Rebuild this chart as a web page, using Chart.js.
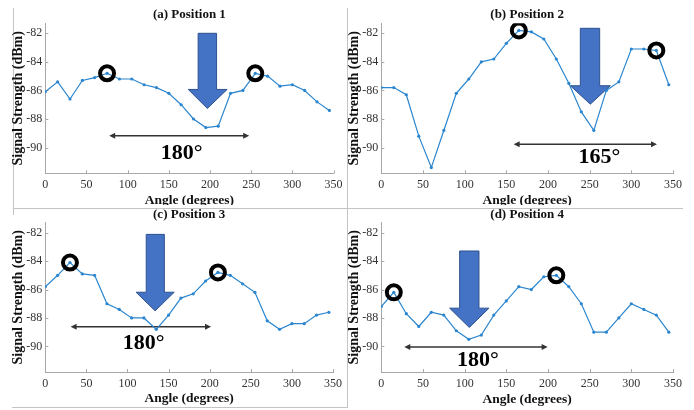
<!DOCTYPE html>
<html>
<head>
<meta charset="utf-8">
<script src="https://cdn.jsdelivr.net/npm/chart.js@4.4.1/dist/chart.umd.min.js"></script>
<style>
	html, body { margin: 0; padding: 0; background: #fff; }
	body { position: relative; width: 694px; height: 410px; overflow: hidden; }
	.panel { position: absolute; width: 347px; height: 205px; }
	.rule { position: absolute; background: #c4c4c4; }
</style>
</head>
<body>
<div class="rule" style="left:13px;top:8px;width:1px;height:207px"></div>
<div class="rule" style="left:347px;top:8px;width:1px;height:400px"></div>
<div class="rule" style="left:13px;top:208px;width:670px;height:1px"></div>
<div class="rule" style="left:12px;top:407px;width:336px;height:1px"></div>

<div class="panel" style="left:0;top:0"><canvas id="chartA"></canvas></div>
<div class="panel" style="left:347px;top:0"><canvas id="chartB"></canvas></div>
<div class="panel" style="left:0;top:205px"><canvas id="chartC"></canvas></div>
<div class="panel" style="left:347px;top:205px"><canvas id="chartD"></canvas></div>

<script>
// Angles measured (degrees)
const angles = [ 0, 15, 30, 45, 60, 75, 90, 105, 120, 135, 150, 165,
	180, 195, 210, 225, 240, 255, 270, 285, 300, 315, 330, 345 ];

// Signal strength (dBm) per position
const position1 = [ -86.1, -85.4, -86.6, -85.3, -85.1, -84.8, -85.2, -85.2, -85.6, -85.8, -86.2, -87.0,
	-88.0, -88.6, -88.5, -86.2, -86.0, -84.8, -85.0, -85.7, -85.6, -86.0, -86.8, -87.4 ];
const position2 = [ -85.8, -85.8, -86.3, -89.2, -91.4, -88.8, -86.2, -85.2, -84.0, -83.8, -82.7, -81.8,
	-81.9, -82.4, -83.8, -85.5, -87.5, -88.8, -86.0, -85.4, -83.1, -83.1, -83.2, -85.6 ];
const position3 = [ -85.8, -85.0, -84.1, -84.9, -85.0, -87.0, -87.4, -88.0, -88.0, -88.8, -87.8, -86.6,
	-86.3, -85.4, -84.8, -85.0, -85.6, -86.2, -88.2, -88.8, -88.4, -88.4, -87.8, -87.6 ];
const position4 = [ -87.2, -86.2, -87.7, -88.6, -87.6, -87.8, -88.9, -89.5, -89.2, -87.8, -86.8, -85.8,
	-86.0, -85.1, -85.0, -85.8, -87.0, -89.0, -89.0, -88.0, -87.0, -87.4, -87.8, -89.0 ];

// Circled peak angles
const peaks1 = [ 75, 255 ];
const peaks2 = [ 165, 330 ];
const peaks3 = [ 30, 210 ];
const peaks4 = [ 15, 210 ];

const panelTitles = [ '(a) Position 1', '(b) Position 2', '(c) Position 3', '(d) Position 4' ];
const spanLabels = [ '180°', '165°', '180°', '180°' ];

// Tick labels
const xTicks = [ 0, 50, 100, 150, 200, 250, 300, 350 ];
const yTicks = [ -90, -88, -86, -84, -82 ];

// Annotation anchors in data units
// down arrow: shaftLeft, shaftRight, headLeft, headRight, tipX, top, headBase, tip
const downArrows = [
	[ 185.6, 208.0, 173.6, 220.8, 196.8, -82.0, -85.93, -87.26 ],
	[ 238.8, 262.0, 226.8, 274.8, 250.8, -81.65, -85.67, -86.96 ],
	[ 122.8, 144.8, 110.4, 156.8, 133.6, -82.12, -86.19, -87.5 ],
	[ 94.0, 117.2, 82.0, 129.2, 105.6, -83.29, -87.31, -88.67 ]
];
// double arrow: from, to, level ; label: x, y
const spanArrows = [
	[ 77.6, 247.6, -89.18, 165.6, -90.37 ],
	[ 158.8, 330.8, -89.77, 261.6, -90.7 ],
	[ 30.8, 201.6, -88.62, 119.6, -89.79 ],
	[ 27.6, 199.6, -90.05, 116.0, -90.96 ]
];

const serif = "'Liberation Serif', 'Times New Roman', serif";
const lineColor = '#2b86cf';
const axisColor = '#a8a8a8';

const annotate = {
	id: 'annotate',
	beforeDatasetsDraw( chart, args, opts ) {
		const { ctx, scales: { x, y }, chartArea } = chart;
		ctx.save();

		// inward tick marks
		ctx.strokeStyle = axisColor;
		ctx.lineWidth = 1;
		ctx.beginPath();
		xTicks.forEach( function ( v ) {
			const px = Math.round( x.getPixelForValue( v ) ) + 0.5;
			ctx.moveTo( px, chartArea.bottom );
			ctx.lineTo( px, chartArea.bottom - 3 );
		} );
		yTicks.forEach( function ( v ) {
			const py = Math.round( y.getPixelForValue( v ) ) + 0.5;
			ctx.moveTo( chartArea.left, py );
			ctx.lineTo( chartArea.left + 3, py );
		} );
		ctx.stroke();

		// big down arrow
		const a = opts.arrow;
		const X = ( v ) => x.getPixelForValue( v ), Y = ( v ) => y.getPixelForValue( v );
		ctx.beginPath();
		ctx.moveTo( X( a[ 0 ] ), Y( a[ 5 ] ) );
		ctx.lineTo( X( a[ 1 ] ), Y( a[ 5 ] ) );
		ctx.lineTo( X( a[ 1 ] ), Y( a[ 6 ] ) );
		ctx.lineTo( X( a[ 3 ] ), Y( a[ 6 ] ) );
		ctx.lineTo( X( a[ 4 ] ), Y( a[ 7 ] ) );
		ctx.lineTo( X( a[ 2 ] ), Y( a[ 6 ] ) );
		ctx.lineTo( X( a[ 0 ] ), Y( a[ 6 ] ) );
		ctx.closePath();
		ctx.fillStyle = '#4472c4';
		ctx.fill();
		ctx.strokeStyle = '#2f528f';
		ctx.lineWidth = 1;
		ctx.stroke();

		// double-headed span arrow
		const s = opts.span;
		const x1 = X( s[ 0 ] ), x2 = X( s[ 1 ] ), sy = Y( s[ 2 ] );
		ctx.strokeStyle = '#333';
		ctx.fillStyle = '#333';
		ctx.lineWidth = 1.5;
		ctx.beginPath();
		ctx.moveTo( x1 + 4, sy );
		ctx.lineTo( x2 - 4, sy );
		ctx.stroke();
		ctx.beginPath();
		ctx.moveTo( x1, sy );
		ctx.lineTo( x1 + 6, sy - 3 );
		ctx.lineTo( x1 + 6, sy + 3 );
		ctx.closePath();
		ctx.moveTo( x2, sy );
		ctx.lineTo( x2 - 6, sy - 3 );
		ctx.lineTo( x2 - 6, sy + 3 );
		ctx.closePath();
		ctx.fill();

		ctx.fillStyle = '#000';
		ctx.font = 'bold 22px ' + serif;
		ctx.textAlign = 'center';
		ctx.textBaseline = 'middle';
		ctx.fillText( opts.label, X( s[ 3 ] ), Y( s[ 4 ] ) );
		ctx.restore();
	}
};

function makeChart( id, values, peaks, idx, lay ) {
	const peakPoints = peaks.map( ( a ) => ( { x: a, y: values[ angles.indexOf( a ) ] } ) );
	const linePoints = angles.map( ( a, i ) => ( { x: a, y: values[ i ] } ) );

	return new Chart( id, {
		type: 'line',
		data: {
			datasets: [ {
				data: peakPoints,
				showLine: false,
				pointRadius: 7,
				pointBorderWidth: 4,
				pointBorderColor: '#000',
				pointBackgroundColor: 'rgba(0,0,0,0)'
			}, {
				data: linePoints,
				borderColor: lineColor,
				borderWidth: 1.2,
				pointRadius: 1.6,
				pointBorderWidth: 0,
				pointBackgroundColor: lineColor,
				tension: 0
			} ]
		},
		options: {
			responsive: true,
			maintainAspectRatio: false,
			animation: false,
			layout: { padding: { left: 0, top: 0, bottom: 0, right: lay.rightPad } },
			plugins: {
				legend: { display: false },
				tooltip: { enabled: false },
				title: {
					display: true,
					fullSize: false,
					text: panelTitles[ idx ],
					color: '#111',
					font: { family: serif, size: 13, weight: 'bold' },
					padding: lay.titlePad
				},
				annotate: {
					arrow: downArrows[ idx ],
					span: spanArrows[ idx ],
					label: spanLabels[ idx ]
				}
			},
			scales: {
				x: {
					type: 'linear',
					min: 0,
					max: 350,
					afterBuildTicks: ( scale ) => { scale.ticks = xTicks.map( ( v ) => ( { value: v } ) ); },
					afterFit: ( scale ) => { scale.height = lay.xHeight; },
					grid: { display: false, drawTicks: false },
					border: { display: true, color: axisColor, width: 1 },
					ticks: { color: '#333', padding: lay.xTickPad, font: { family: serif, size: 12 } },
					title: {
						display: true,
						text: 'Angle (degrees)',
						color: '#111',
						font: { family: serif, size: 13.5, weight: 'bold' },
						padding: { top: 0, bottom: lay.xTitlePad }
					}
				},
				y: {
					min: -91.8,
					max: -81.3,
					afterBuildTicks: ( scale ) => { scale.ticks = yTicks.map( ( v ) => ( { value: v } ) ); },
					afterFit: ( scale ) => { scale.width = lay.left; },
					grid: { display: false, drawTicks: false },
					border: { display: true, color: axisColor, width: 1 },
					ticks: { color: '#333', padding: 3, font: { family: serif, size: 12 } },
					title: {
						display: true,
						text: 'Signal Strength (dBm)',
						color: '#111',
						font: { family: serif, size: 14, weight: 'bold' },
						padding: { top: lay.yTitlePad, bottom: 0 }
					}
				}
			}
		},
		plugins: [ annotate ]
	} );
}

makeChart( 'chartA', position1, peaks1, 0,
	{ left: 45.3, rightPad: 9.7, xHeight: 31.7, xTickPad: 4.5, xTitlePad: -3.6, yTitlePad: 9.6, titlePad: { top: 7.2, bottom: 0.5 } } );
makeChart( 'chartB', position2, peaks2, 1,
	{ left: 34.3, rightPad: 21, xHeight: 31.7, xTickPad: 4.5, xTitlePad: -3.6, yTitlePad: -1.4, titlePad: { top: 7.2, bottom: 0.5 } } );
makeChart( 'chartC', position3, peaks3, 2,
	{ left: 45.3, rightPad: 9.7, xHeight: 38, xTickPad: 5, xTitlePad: 2.9, yTitlePad: 9.6, titlePad: { top: 1.5, bottom: 0.6 } } );
makeChart( 'chartD', position4, peaks4, 3,
	{ left: 34.3, rightPad: 21, xHeight: 38, xTickPad: 5, xTitlePad: 1.9, yTitlePad: -1.1, titlePad: { top: 1.5, bottom: 0.6 } } );
</script>
</body>
</html>
